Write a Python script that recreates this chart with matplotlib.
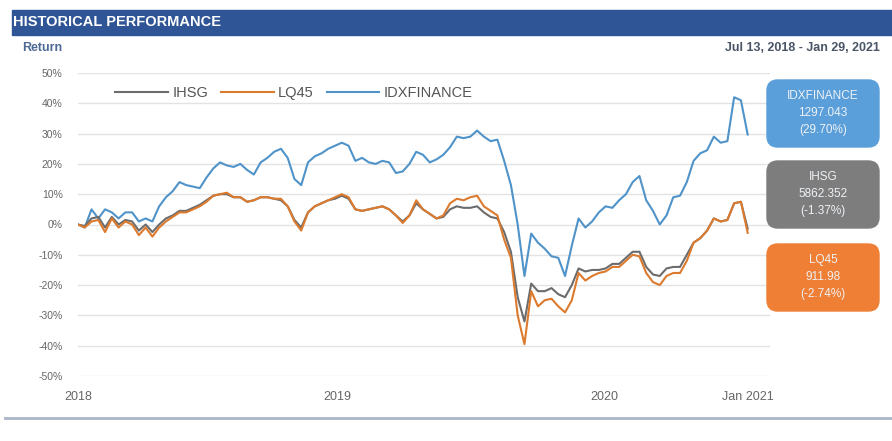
import numpy as np
import matplotlib.pyplot as plt
from matplotlib.patches import FancyBboxPatch, Rectangle

plt.rcParams['font.family'] = ['Liberation Sans', 'DejaVu Sans']

# return (%) sampled at evenly spaced points from Jul 13, 2018 to Jan 29, 2021
idxfinance = [0, -1, 5, 2, 5, 4, 2, 4, 4, 1,
              2, 1, 6, 9, 11, 14, 13, 12.5, 12, 15.5,
              18.5, 20.5, 19.5, 19, 20, 18, 16.5, 20.5, 22, 24,
              25, 22, 15, 13, 20.5, 22.5, 23.5, 25, 26, 27,
              26, 21, 22, 20.5, 20, 21, 20.5, 17, 17.5, 20,
              24, 23, 20.5, 21.5, 23, 25.5, 29, 28.5, 29, 31,
              29, 27.5, 28, 21, 13, 0, -17, -3, -6, -8,
              -10.5, -11, -17, -7, 2, -1, 1, 4, 6, 5.5,
              8, 10, 14, 16, 8, 4.5, 0, 3, 9, 9.5,
              14, 21, 23.5, 24.5, 29, 27, 27.5, 42, 41, 29.7]
lq45 = [0, -1, 1, 1.5, -2.5, 2, -1, 1, 0, -3.5,
        -1, -4, -1, 1, 2.5, 4, 4, 5, 6, 7.5,
        9.5, 10, 10.5, 9, 9, 7.5, 8, 9, 9, 8.5,
        8.5, 6, 1, -2, 4, 6, 7, 8, 9, 10,
        9, 5, 4.5, 5, 5.5, 6, 5, 3, 0.5, 3,
        8, 5, 3.5, 2, 3, 7, 8.5, 8, 9, 9.5,
        6, 4.5, 3, -5, -11, -30, -39.5, -22, -27, -25,
        -24.5, -27, -29, -25, -16, -18.5, -17, -16, -15.5, -14,
        -14, -12, -10, -10.5, -16, -19, -20, -17, -16, -16,
        -12, -6, -4.5, -2, 2, 1, 1.5, 7, 7.5, -2.74]
ihsg = [0, -0.5, 2, 2.5, -1, 2.5, 0, 1.5, 1, -2,
        0, -2.5, 0, 2, 3, 4.5, 4.5, 5.5, 6.5, 8,
        9.5, 10, 10, 9, 9, 7.5, 8, 9, 9, 8.5,
        8, 6, 1.5, -1, 4, 6, 7, 8, 8.5, 9.5,
        8.5, 5, 4.5, 5, 5.5, 6, 5, 3, 1, 3,
        7, 5, 3.5, 2, 2.5, 5, 6, 5.5, 5.5, 6,
        4, 2.5, 2, -2.5, -9, -24, -32, -19.5, -22, -22,
        -21, -23, -24, -20, -14.5, -15.5, -15, -15, -14.5, -13,
        -13, -11, -9, -9, -14, -16.5, -17, -14.5, -14, -14,
        -10, -6, -4.5, -2, 2, 1, 1.5, 7, 7.5, -1.37]

tick_pos = [0, 38.4, 77.8, 99]
tick_labels = ['2018', '2019', '2020', 'Jan 2021']

box_names = ['IDXFINANCE', 'IHSG', 'LQ45']
box_last = ['1297.043', '5862.352', '911.98']
box_ret = ['(29.70%)', '(-1.37%)', '(-2.74%)']

c_blue = '#4f93c9'
c_orange = '#dc7a2e'
c_gray = '#6c6c6c'

W, H = 892, 441
fig = plt.figure(figsize=(W / 100, H / 100), dpi=100)

def fx(px):
    return px / W

def fy(py):
    return 1 - py / H

# header bar
fig.patches.append(Rectangle((fx(12), fy(35)), fx(880), 25 / H, transform=fig.transFigure,
                             color='#2f5596', zorder=0))
fig.text(fx(13), fy(22.5), 'HISTORICAL PERFORMANCE', color='white', fontsize=10.5,
         fontweight='bold', va='center', ha='left')
fig.text(fx(22), fy(48), 'Return', color='#4d6a95', fontsize=9, fontweight='bold',
         va='center', ha='left')
fig.text(fx(880), fy(48), 'Jul 13, 2018 - Jan 29, 2021', color='#4a5568', fontsize=9,
         fontweight='bold', va='center', ha='right')

# bottom rule
fig.add_artist(plt.Line2D([fx(5), 1], [fy(418), fy(418)], color='#aab6c8', lw=2,
                          transform=fig.transFigure))

ax = fig.add_axes([fx(78), fy(376), fx(770 - 78), (376 - 73) / H])
x = np.arange(len(ihsg))
ax.plot(x, idxfinance, color=c_blue, lw=1.5, label='IDXFINANCE', zorder=3)
ax.plot(x, ihsg, color=c_gray, lw=1.5, label='IHSG', zorder=3)
ax.plot(x, lq45, color=c_orange, lw=1.5, label='LQ45', zorder=4)

ax.set_xlim(0, 102.3)
ax.set_ylim(-50, 50)
ax.set_yticks(range(-50, 51, 10))
ax.set_yticklabels([f'{v}%' for v in range(-50, 51, 10)])
ax.set_xticks(tick_pos)
ax.set_xticklabels(tick_labels)
ax.tick_params(axis='both', length=0, labelsize=7.5, labelcolor='#666666')
ax.tick_params(axis='x', pad=11, labelsize=9)
ax.tick_params(axis='y', pad=11)
ax.grid(axis='y', color='#e3e3e3', lw=1)
for s in ax.spines.values():
    s.set_visible(False)

handles, labels = ax.get_legend_handles_labels()
order = [1, 2, 0]
ax.legend([handles[i] for i in order], [labels[i] for i in order], loc='center left',
          bbox_to_anchor=(0.035, 0.935), ncol=3, frameon=False, fontsize=10.5,
          handlelength=3.6, handletextpad=0.3, columnspacing=0.9, labelcolor='#555555')

# value boxes on the right
box_colors = ['#5a9fd9', '#7d7d7d', '#ef7f34']
box_top = [80, 161, 244]
for name, last, ret, col, top in zip(box_names, box_last, box_ret, box_colors, box_top):
    fig.patches.append(FancyBboxPatch((fx(767), fy(top + 67)), fx(112), 67 / H,
                                      boxstyle='round,pad=0,rounding_size=0.012',
                                      transform=fig.transFigure, color=col, zorder=1,
                                      mutation_aspect=W / H))
    for k, t in enumerate([name, last, ret]):
        fig.text(fx(823), fy(top + 16 + 17 * k), t, color='#eef2f6', fontsize=8.5,
                 ha='center', va='center', zorder=2)

fig.savefig('out.png', dpi=100)
